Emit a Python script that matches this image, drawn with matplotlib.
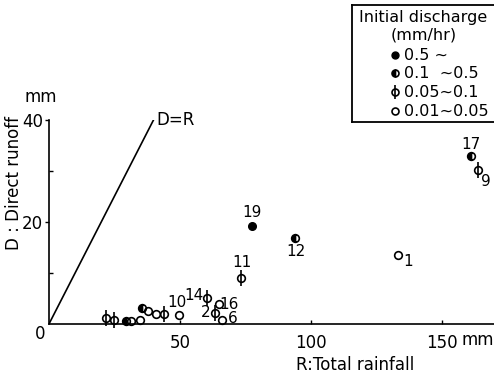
import matplotlib
matplotlib.use("Agg")
import matplotlib.pyplot as plt

plt.rcParams['font.family'] = ['DejaVu Sans']

# Data (R: total rainfall, D: direct runoff), grouped by initial discharge class
full_R = [77.6]
full_D = [19.1]
half_R = [161.1, 94.1, 29.6, 35.6]
half_D = [32.9, 16.9, 0.6, 3.2]
phi_R = [163.7, 73.5, 60.4, 63.3, 21.9, 25.0, 43.8]
phi_D = [30.1, 9.1, 5.1, 2.1, 1.1, 0.8, 1.9]
open_R = [133.3, 64.8, 49.8, 31.4, 34.7, 37.8, 41.0, 66.1]
open_D = [13.6, 3.9, 1.8, 0.6, 0.8, 2.6, 1.9, 0.9]

labels = ["19", "17", "12", "9", "11", "14", "2", "1", "16", "10", "6"]
label_R = [77.6, 161.1, 94.1, 163.7, 73.5, 60.4, 63.3, 133.3, 64.8, 49.8, 66.1]
label_D = [19.1, 32.9, 16.9, 30.1, 9.1, 5.1, 2.1, 13.6, 3.9, 1.8, 0.9]
label_off = [(0, 10), (0, 8), (0, -10), (6, -8), (0, 11), (-9.5, 2), (-6.5, 0.5), (7, -5), (7.5, 0), (-1.5, 9), (7.5, 0.5)]

line_R = [0, 40]
line_D = [0, 40]

legend_labels = ["0.5 ~", "0.1  ~0.5", "0.05~0.1", "0.01~0.05"]

fig = plt.figure(figsize=(4.94, 3.76), dpi=100)
ax = fig.add_axes([0.099, 0.138, 0.9017, 0.544])
ax.set_xlim(0, 170)
ax.set_ylim(0, 40)

for s in ['top', 'right']:
    ax.spines[s].set_visible(False)
for s in ['left', 'bottom']:
    ax.spines[s].set_linewidth(1.2)

ax.plot(line_R, line_D, color='black', lw=1.2)
ax.text(41, 40, "D=R", fontsize=12, ha='left', va='center')

ms = 5.5
ax.plot(full_R, full_D, 'o', ms=ms, mfc='black', mec='black', clip_on=False)
ax.plot(half_R, half_D, 'o', ms=ms, mfc='black', mfcalt='white', fillstyle='left',
        mec='black', mew=1.2, clip_on=False)
ax.plot(phi_R, phi_D, 'o', ms=ms, mfc='none', mec='black', mew=1.2, clip_on=False)
ax.plot(phi_R, phi_D, '|', ms=ms * 2.1, mec='black', mew=1.2, clip_on=False)
ax.plot(open_R, open_D, 'o', ms=ms, mfc='none', mec='black', mew=1.2, clip_on=False)

for t, r, d, off in zip(labels, label_R, label_D, label_off):
    ax.annotate(t, (r, d), xytext=off, textcoords='offset points',
                ha='center', va='center', fontsize=11)

ax.set_xticks([50, 100, 150])
ax.set_xticklabels(["50", "100", "150"], fontsize=12)
ax.tick_params(axis='x', direction='in', length=3, width=1, pad=7)
ax.text(163.5, -3.1, "mm", fontsize=12, ha='center', va='center')
ax.set_yticks([20, 40])
ax.set_yticklabels(["20", "40"], fontsize=12)
ax.set_yticks([10, 30], minor=True)
ax.tick_params(axis='y', which='major', direction='out', length=3, width=1, pad=1)
ax.tick_params(axis='y', which='minor', direction='in', length=3, width=1)
ax.text(-1.5, -2.0, "0", fontsize=12, ha='right', va='center')
ax.text(-3, 44.5, "mm", fontsize=12, ha='center', va='center')

ax.set_xlabel("R:Total rainfall", fontsize=12)
ax.xaxis.set_label_coords(0.688, -0.155)
ax.set_ylabel("D : Direct runoff", fontsize=12)
ax.yaxis.set_label_coords(-0.058, 0.69)

# legend panel
lax = fig.add_axes([0.712, 0.676, 0.29, 0.311])
lax.set_xlim(0, 1)
lax.set_ylim(0, 1)
lax.set_xticks([])
lax.set_yticks([])
for s in lax.spines.values():
    s.set_linewidth(1.3)
lax.text(0.5, 0.888, "Initial discharge", fontsize=11.5, ha='center', va='center')
lax.text(0.5, 0.742, "(mm/hr)", fontsize=11.5, ha='center', va='center')
ys = [0.571, 0.417, 0.255, 0.092]
mx = 0.30
lax.plot([mx], [ys[0]], 'o', ms=5, mfc='black', mec='black')
lax.plot([mx], [ys[1]], 'o', ms=5, mfc='black', mfcalt='white', fillstyle='left', mec='black', mew=1.2)
lax.plot([mx], [ys[2]], 'o', ms=5, mfc='none', mec='black', mew=1.2)
lax.plot([mx], [ys[2]], '|', ms=10, mec='black', mew=1.2)
lax.plot([mx], [ys[3]], 'o', ms=5, mfc='none', mec='black', mew=1.2)
for y, t in zip(ys, legend_labels):
    lax.text(0.365, y, t, fontsize=11.5, ha='left', va='center')

fig.savefig("out.png", dpi=100)
